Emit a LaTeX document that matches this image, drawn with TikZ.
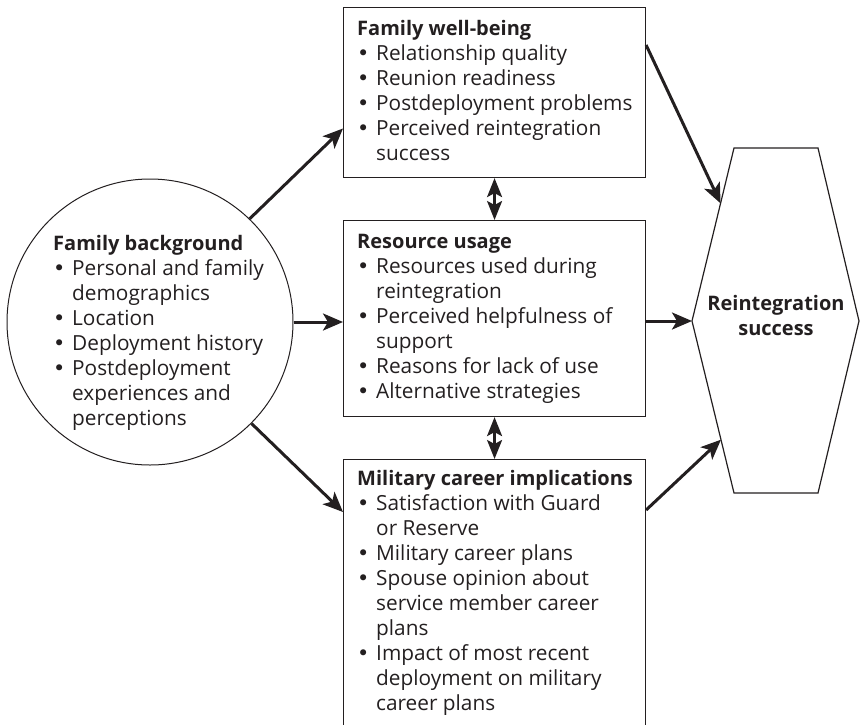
\documentclass[tikz,border=0pt]{standalone}
\usepackage{fontspec}
\setmainfont{Open Sans}
\newfontfamily\bulfont{DejaVu Sans}
\usetikzlibrary{arrows.meta,calc}
\definecolor{ink}{HTML}{231F20}
\newcommand{\bi}{\makebox[19pt][l]{\bulfont •}}
\newcommand{\ci}{\hspace*{19pt}}
\newcommand{\fl}{\rule{0pt}{20pt}}
\newcommand{\hd}[1]{{\fontsize{20}{25}\selectfont\bfseries #1}}
\begin{document}
\begin{tikzpicture}[x=1pt,y=-1pt,
  txt/.style={anchor=north west, inner sep=0pt, align=left, text=ink, font=\fontsize{20.8}{25}\selectfont},
  ctxt/.style={anchor=north, inner sep=0pt, align=center, text=ink, font=\fontsize{20}{25}\selectfont\bfseries},
  box/.style={draw=ink, line width=1.1pt, inner sep=0pt, anchor=north west},
  flow/.style={draw=ink, line width=3pt, -{Stealth[length=20pt,width=17pt,inset=5pt]}},
  link/.style={draw=ink, line width=2.4pt, {Stealth[length=19pt,width=15pt,inset=4pt]}-{Stealth[length=19pt,width=15pt,inset=4pt]}},
]
\useasboundingbox (0,0) rectangle (860,724);
\clip (0,0) rectangle (860,724);

% shapes
\node[draw=ink, line width=1pt, circle, minimum size=286pt, inner sep=0pt] (fb) at (150,322) {};
\node[box, minimum width=302pt, minimum height=170pt] (fwb) at (343,7) {};
\node[box, minimum width=302pt, minimum height=196pt] (rsu) at (343,220) {};
\node[box, minimum width=302pt, minimum height=301pt] (mci) at (343,459) {};

\coordinate (h1) at (734,148);
\coordinate (h2) at (818,148);
\coordinate (h3) at (859,321);
\coordinate (h4) at (818,493);
\coordinate (h5) at (734,493);
\coordinate (h6) at (692,321);
\draw[draw=ink, line width=1.2pt, line join=miter] (h1) -- (h2) -- (h3) -- (h4) -- (h5) -- (h6) -- cycle;

% texts
\node[txt] (fbt) at (53,230) {\fl\hd{Family background}\\
\bi Personal and family\\
\ci demographics\\
\bi Location\\
\bi Deployment history\\
\bi Postdeployment\\
\ci experiences and\\
\ci perceptions};

\node[txt] (fwbt) at (357,15) {\fl\hd{Family well-being}\\
\bi Relationship quality\\
\bi Reunion readiness\\
\bi Postdeployment problems\\
\bi Perceived reintegration\\
\ci success};

\node[txt] (rsut) at (357,228) {\fl\hd{Resource usage}\\
\bi Resources used during\\
\ci reintegration\\
\bi Perceived helpfulness of\\
\ci support\\
\bi Reasons for lack of use\\
\bi Alternative strategies};

\node[txt] (mcit) at (357,465) {\fl\hd{Military career implications}\\
\bi Satisfaction with Guard\\
\ci or Reserve\\
\bi Military career plans\\
\bi Spouse opinion about\\
\ci service member career\\
\ci plans\\
\bi Impact of most recent\\
\ci deployment on military\\
\ci career plans};

\node[ctxt] (rst) at (776,290) {\fl Reintegration\\success};

% connectors
\draw[flow] (fb.46) -- ($(fwb.north west)!0.71!(fwb.south west)$);
\draw[flow] (fb.east) -- (fb.east -| rsu.west);
\draw[flow] (fb.-45) -- ($(mci.north west)+(0,53)$);
\draw[flow] ($(fwb.north east)+(0,38)$) -- ($(h1)!0.32!(h6)$);
\draw[flow] (rsu.east |- h6) -- (h6);
\draw[flow] ($(mci.north east)+(0,51)$) -- ($(h6)!0.69!(h5)$);
\draw[link] (fwb.south) -- (rsu.north);
\draw[link] (rsu.south) -- (mci.north);
\end{tikzpicture}
\end{document}
